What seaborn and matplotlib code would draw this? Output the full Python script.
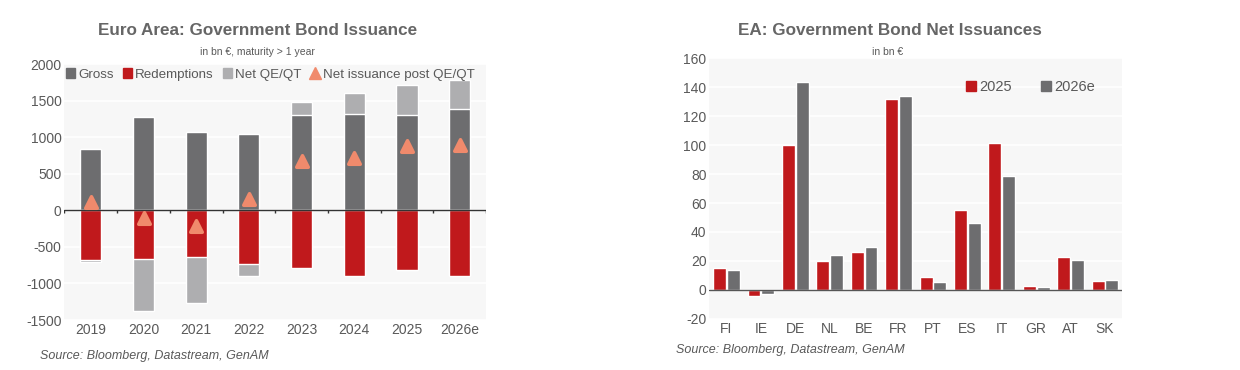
import pandas as pd
import matplotlib.pyplot as plt
from matplotlib.lines import Line2D
from matplotlib.patches import Patch
import numpy as np
import seaborn as sns

# left chart data (bn EUR)
years = ['2019', '2020', '2021', '2022', '2023', '2024', '2025', '2026e']
gross = [840, 1270, 1065, 1045, 1305, 1313, 1305, 1385]
redemptions = [-675, -670, -634, -728, -795, -893, -812, -893]
net_qe_qt = [-30, -700, -635, -165, 170, 295, 410, 400]
net_post = [120, -102, -214, 153, 670, 710, 880, 894]

# right chart data (bn EUR)
countries = ['FI', 'IE', 'DE', 'NL', 'BE', 'FR', 'PT', 'ES', 'IT', 'GR', 'AT', 'SK']
net_2025 = [15, -4, 100, 20.3, 26, 132, 9, 55, 101.6, 2.8, 22.6, 6.2]
net_2026e = [13.6, -2.8, 143.8, 24.2, 29.3, 133.9, 5.8, 46.3, 78.8, 2.3, 20.5, 6.9]

sns.set_theme(style='white')
plt.rcParams['font.family'] = ['Liberation Sans', 'DejaVu Sans']
plt.rcParams['axes.unicode_minus'] = False

DARK = '#6d6d6f'
RED = '#c0191c'
LIGHT = '#aeaeb0'
SALMON = '#f08a6c'
TXT = '#595959'
BG = '#f7f7f7'

fig = plt.figure(figsize=(12.4, 3.7), dpi=100)
ax1 = fig.add_axes([0.052, 0.135, 0.340, 0.692])
ax2 = fig.add_axes([0.572, 0.138, 0.333, 0.705])

for ax in (ax1, ax2):
    ax.set_facecolor(BG)
    ax.grid(axis='y', color='white', linewidth=1.2)
    ax.set_axisbelow(True)
    for s in ax.spines.values():
        s.set_visible(False)
    ax.tick_params(axis='both', length=0, labelsize=10, colors=TXT, pad=2)

# ---- left: stacked issuance ----
df = pd.DataFrame({'year': years, 'gross': gross, 'red': redemptions,
                   'qe': net_qe_qt, 'net': net_post})
df['pos_total'] = df['gross'] + df['qe'].clip(lower=0)
df['neg_total'] = df['red'] + df['qe'].clip(upper=0)

bw = 0.4
sns.barplot(data=df, x='year', y='pos_total', color=LIGHT, width=bw, saturation=1, ax=ax1)
sns.barplot(data=df, x='year', y='neg_total', color=LIGHT, width=bw, saturation=1, ax=ax1)
sns.barplot(data=df, x='year', y='gross', color=DARK, width=bw, saturation=1, ax=ax1)
sns.barplot(data=df, x='year', y='red', color=RED, width=bw, saturation=1, ax=ax1)
sns.scatterplot(data=df, x='year', y='net', marker='^', s=70, color=SALMON,
                edgecolor=SALMON, linewidth=2.5, zorder=5, ax=ax1)

ax1.set_ylim(-1500, 2000)
ax1.set_xlim(-0.5, len(years) - 0.5)
ax1.set_yticks(np.arange(-1500, 2001, 500))
ax1.set_xlabel('')
ax1.set_ylabel('')
ax1.axhline(0, color='#333333', linewidth=1)
ax1.vlines(np.arange(-0.5, len(years), 1), -40, 0, color='#333333', linewidth=1)

handles1 = [Patch(color=DARK), Patch(color=RED), Patch(color=LIGHT),
            Line2D([], [], marker='^', linestyle='', color=SALMON, markersize=8)]
ax1.legend(handles1, ['Gross', 'Redemptions', 'Net QE/QT', 'Net issuance post QE/QT'],
           loc='upper left', bbox_to_anchor=(-0.025, 1.03), ncol=4, frameon=False,
           handlelength=0.7, handleheight=0.7, handletextpad=0.2, columnspacing=0.7,
           fontsize=9.6, labelcolor=TXT)

fig.text(0.208, 0.905, 'Euro Area: Government Bond Issuance', ha='center',
         fontsize=12.3, fontweight='bold', color='#666666')
fig.text(0.208, 0.852, 'in bn €, maturity > 1 year', ha='center', fontsize=7.5, color=TXT)
fig.text(0.032, 0.03, 'Source: Bloomberg, Datastream, GenAM', fontsize=9,
         style='italic', color=TXT)

# ---- right: net issuance by country ----
df2 = pd.DataFrame({'country': countries * 2,
                    'value': net_2025 + net_2026e,
                    'series': ['2025'] * len(countries) + ['2026e'] * len(countries)})
sns.barplot(data=df2, x='country', y='value', hue='series', palette=[RED, DARK],
            width=0.8, gap=0.06, saturation=1, ax=ax2, legend=False)
ax2.set_ylim(-20, 160)
ax2.set_xlim(-0.5, len(countries) - 0.5)
ax2.set_yticks(np.arange(-20, 161, 20))
ax2.set_xlabel('')
ax2.set_ylabel('')
ax2.axhline(0, color='#555555', linewidth=1)

handles2 = [Patch(color=RED), Patch(color=DARK)]
ax2.legend(handles2, ['2025', '2026e'], loc='center left', bbox_to_anchor=(0.59, 0.89),
           ncol=2, frameon=False, handlelength=0.7, handleheight=0.7,
           handletextpad=0.2, columnspacing=2.0, fontsize=10.5, labelcolor=TXT)

fig.text(0.718, 0.905, 'EA: Government Bond Net Issuances', ha='center',
         fontsize=12.3, fontweight='bold', color='#666666')
fig.text(0.716, 0.852, 'in bn €', ha='center', fontsize=7.5, color=TXT)
fig.text(0.545, 0.045, 'Source: Bloomberg, Datastream, GenAM', fontsize=9,
         style='italic', color=TXT)

fig.savefig('out.png', dpi=100, facecolor='white')
